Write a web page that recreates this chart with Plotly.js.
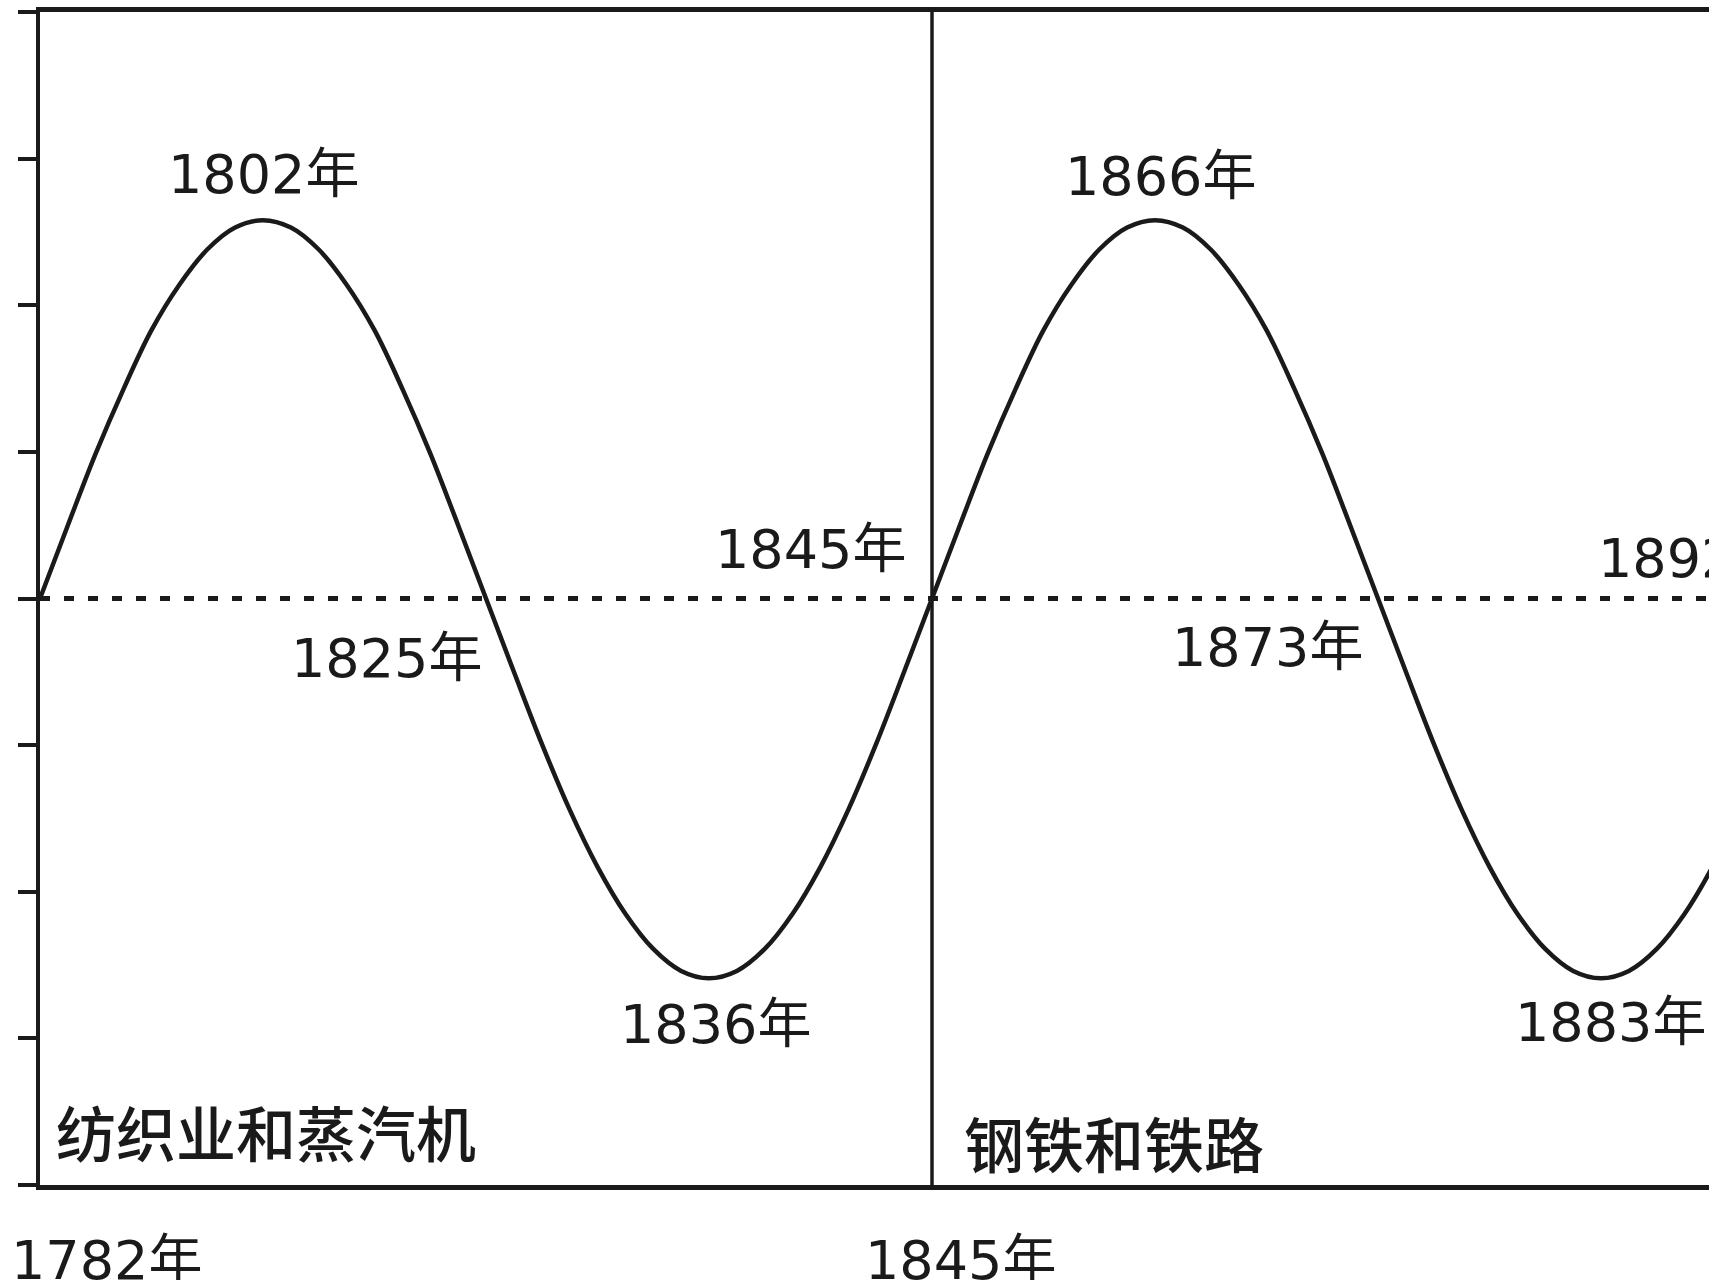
<!DOCTYPE html>
<html>
<head>
<meta charset="utf-8">
<script src="https://cdn.plot.ly/plotly-3.0.1.min.js"></script>
<style>
html,body{margin:0;padding:0;overflow:hidden;background:#fff;width:1709px;height:1280px;}
#chart{width:1834px;height:1280px;}
</style>
</head>
<body>
<div id="chart"></div>
<script>
// Phase of the long wave, in quarter-cycles (0 = 1782, 4 = 1845, 8 = 1892)
const phase = [0,0.125,0.25,0.375,0.5,0.625,0.75,0.875,1,1.125,1.25,1.375,1.5,1.625,1.75,1.875,
               2,2.125,2.25,2.375,2.5,2.625,2.75,2.875,3,3.125,3.25,3.375,3.5,3.625,3.75,3.875,
               4,4.125,4.25,4.375,4.5,4.625,4.75,4.875,5,5.125,5.25,5.375,5.5,5.625,5.75,5.875,
               6,6.125,6.25,6.375,6.5,6.625,6.75,6.875,7,7.125,7.25,7.375,7.5,7.625,7.75,7.875,8];
// Level of the wave (in y-tick steps)
const level = [0,0.50,0.99,1.43,1.83,2.14,2.38,2.53,2.58,2.53,2.38,2.14,1.83,1.43,0.99,0.50,
               0,-0.50,-0.99,-1.44,-1.83,-2.15,-2.39,-2.54,-2.59,-2.54,-2.39,-2.15,-1.83,-1.44,-0.99,-0.50,
               0,0.50,0.99,1.43,1.83,2.14,2.38,2.53,2.58,2.53,2.38,2.14,1.83,1.43,0.99,0.50,
               0,-0.50,-0.99,-1.44,-1.83,-2.15,-2.39,-2.54,-2.59,-2.54,-2.39,-2.15,-1.83,-1.44,-0.99,-0.50,0];

// Turning points of the wave and their year labels
const keyPhase = [1,2,4,3,5,6,7,8];
const keyLevel = [2.58,0,0,-2.59,2.58,0,-2.59,0];
const keyYear  = ['1802年','1825年','1845年','1836年','1866年','1873年','1883年','1892年'];

// Eras (start phase) and their names
const eraStart = [0,4];
const eraName  = ['纺织业和蒸汽机','钢铁和铁路'];
const eraYear  = ['1782年','1845年'];

// Axis extents
const phaseRange = [0,8];
const levelRange = [-4,4];

const ink = '#1a1a1a';
const labelFont = {family:'DejaVu Sans, Noto Sans CJK SC, sans-serif', size:54, color:ink};
const eraFont = {family:'Noto Sans CJK SC, sans-serif', size:60, color:ink, weight:500};

// label offsets (px) relative to each turning point
const offs = {
  '1802年':[0,46], '1825年':[-100,-60], '1845年':[-122,49], '1836年':[6,-46],
  '1866年':[5,44], '1873年':[-111,-49], '1883年':[9,-44], '1892年':[-131,40]
};

const annotations = [];
keyYear.forEach((t,i)=>{
  annotations.push({x:keyPhase[i], y:keyLevel[i], xref:'x', yref:'y', text:t, showarrow:false,
    xanchor:'center', yanchor:'middle', xshift:offs[t][0], yshift:offs[t][1], font:labelFont});
});
const eraOff = [[14,-3.63],[30,-3.70]];
eraName.forEach((t,i)=>{
  annotations.push({x:eraStart[i], y:eraOff[i][1], xref:'x', yref:'y', text:t, showarrow:false,
    xanchor:'left', yanchor:'middle', xshift:eraOff[i][0], font:eraFont});
});
const yearShift = [66,28];
eraYear.forEach((t,i)=>{
  annotations.push({x:eraStart[i], y:-0.064, xref:'x', yref:'paper', text:t, showarrow:false,
    xanchor:'center', yanchor:'middle', xshift:yearShift[i], font:labelFont});
});

const traces = [
  {x:[phaseRange[0],phaseRange[1]], y:[0,0], mode:'lines', hoverinfo:'skip',
   line:{color:ink, width:5, dash:'10px,14px'}},
  {x:[eraStart[1],eraStart[1]], y:levelRange, mode:'lines', hoverinfo:'skip',
   line:{color:ink, width:3.5}},
  {x:phase, y:level, mode:'lines', hoverinfo:'skip',
   line:{color:ink, width:4.5, shape:'spline', smoothing:1}}
];

const layout = {
  width:1834, height:1280,
  margin:{l:40, r:10, t:12, b:95},
  paper_bgcolor:'#fff', plot_bgcolor:'#fff',
  showlegend:false,
  xaxis:{range:phaseRange, showgrid:false, zeroline:false, showline:true, linewidth:5,
    linecolor:ink, mirror:true, ticks:'', showticklabels:false},
  yaxis:{range:levelRange, showgrid:false, zeroline:false, showline:true, linewidth:4,
    linecolor:ink, ticks:'outside', ticklen:18, tickwidth:4, tickcolor:ink,
    tick0:0, dtick:1, showticklabels:false},
  annotations:annotations
};

Plotly.newPlot('chart', traces, layout, {displayModeBar:false, staticPlot:true});
</script>
</body>
</html>
